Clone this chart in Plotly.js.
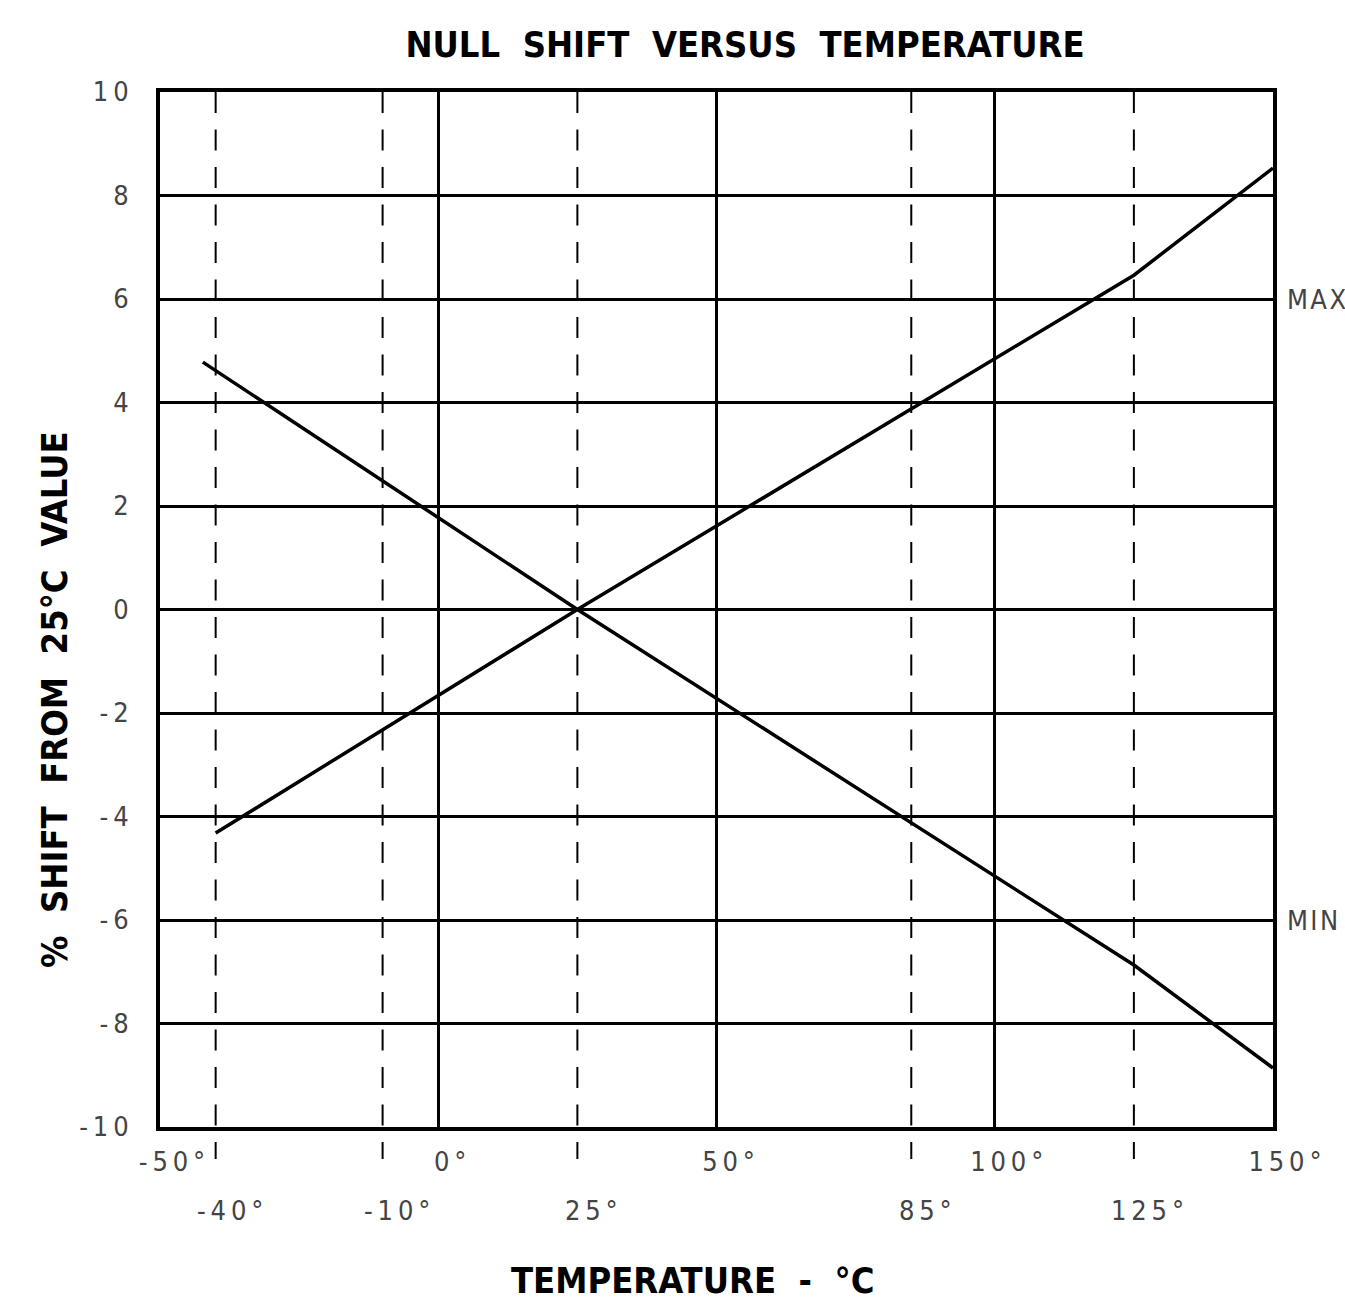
<!DOCTYPE html>
<html>
<head>
<meta charset="utf-8">
<script src="https://cdn.plot.ly/plotly-3.0.1.min.js"></script>
<style>html,body{margin:0;padding:0;background:#fff;}#chart{width:1345px;height:1306px;}</style>
</head>
<body>
<div id="chart"></div>
<script>
// ---- data ----
const maxTemp = [-40, 25, 125, 150];
const maxShift = [-4.32, 0, 6.46, 8.53];
const minTemp = [-42.3, 25, 125, 150];
const minShift = [4.78, 0, -6.87, -8.86];

const xMajorVals = [-50, 0, 50, 100, 150];
const xMajorText = ['-\u20095\u20090\u2009°', '0\u2009°', '5\u20090\u2009°', '1\u20090\u20090\u2009°', '1\u20095\u20090\u2009°'];
const xDashVals = [-40, -10, 25, 85, 125];
const xDashText = ['-\u20094\u20090\u2009°', '-\u20091\u20090\u2009°', '2\u20095\u2009°', '8\u20095\u2009°', '1\u20092\u20095\u2009°'];
const yVals = [-10, -8, -6, -4, -2, 0, 2, 4, 6, 8, 10];
const yText = ['-\u20091\u20090', '-\u20098', '-\u20096', '-\u20094', '-\u20092', '0', '2', '4', '6', '8', '1\u20090'];
const sideLabels = ['M\u200aA\u200aX', 'M\u200aI\u200aN'];
const sideLabelY = [6, -6];

const thinFont = {family: 'DejaVu Sans Condensed, Liberation Sans Narrow, sans-serif', size: 27, color: '#444', weight: 'normal'};
const boldFont = {family: 'DejaVu Sans Condensed, Liberation Sans Narrow, sans-serif', size: 36, color: '#000', weight: 'bold'};

const traces = [
  {x: maxTemp, y: maxShift, mode: 'lines', line: {color: '#000', width: 3.5}, hoverinfo: 'skip', showlegend: false},
  {x: minTemp, y: minShift, mode: 'lines', line: {color: '#000', width: 3.5}, hoverinfo: 'skip', showlegend: false}
];

const shapes = xDashVals.map(v => ({
  type: 'line', xref: 'x', yref: 'paper', x0: v, x1: v, y0: 1, y1: -0.031,
  line: {color: '#000', width: 2, dash: '21px,16.5px'}, layer: 'below'
}));

const annotations = [];
xDashVals.forEach((v, i) => annotations.push({
  xref: 'x', yref: 'paper', x: v, y: -0.0802, xanchor: 'center', yanchor: 'middle',
  xshift: 14, text: xDashText[i], showarrow: false, font: thinFont
}));
sideLabels.forEach((t, i) => annotations.push({
  xref: 'paper', yref: 'y', x: 1.011, y: sideLabelY[i], xanchor: 'left', yanchor: 'middle',
  text: t, showarrow: false, font: thinFont
}));
annotations.push({
  xref: 'paper', yref: 'paper', x: -0.0943, y: 0.4126, xanchor: 'center', yanchor: 'middle',
  textangle: -90, text: '%\u00a0 SHIFT\u00a0 FROM\u00a0 25°C\u00a0 VALUE', showarrow: false, font: boldFont
});
annotations.push({
  xref: 'paper', yref: 'paper', x: 0.478, y: -0.148, xanchor: 'center', yanchor: 'middle',
  text: 'TEMPERATURE\u00a0 -\u00a0 °C', showarrow: false, font: boldFont
});

const layout = {
  width: 1345, height: 1306,
  margin: {l: 160, r: 72, t: 92, b: 179},
  paper_bgcolor: '#fff', plot_bgcolor: '#fff',
  title: {
    text: 'NULL\u00a0 SHIFT\u00a0 VERSUS\u00a0 TEMPERATURE',
    font: boldFont, x: 745 / 1345, xref: 'container', xanchor: 'center',
    y: 1 - 44 / 1306, yref: 'container', yanchor: 'middle'
  },
  xaxis: {
    range: [-50, 150], tickmode: 'array', tickvals: xMajorVals, ticktext: xMajorText,
    showgrid: true, gridcolor: '#000', gridwidth: 3, zeroline: false,
    showline: true, mirror: true, linecolor: '#000', linewidth: 4,
    ticks: '', tickfont: thinFont, ticklabelstandoff: 8, ticklabelshift: 12, fixedrange: true
  },
  yaxis: {
    range: [-10, 10], tickmode: 'array', tickvals: yVals, ticktext: yText,
    showgrid: true, gridcolor: '#000', gridwidth: 3, zeroline: false,
    showline: true, mirror: true, linecolor: '#000', linewidth: 4,
    ticks: '', tickfont: thinFont, ticklabelstandoff: 22, fixedrange: true
  },
  shapes: shapes,
  annotations: annotations
};

Plotly.newPlot('chart', traces, layout, {staticPlot: true, displayModeBar: false});
</script>
</body>
</html>
